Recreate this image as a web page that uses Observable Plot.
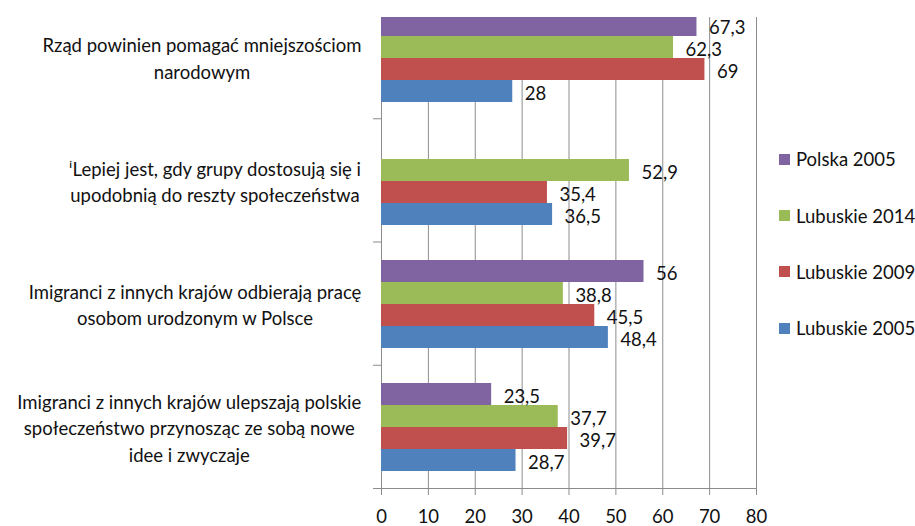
<!DOCTYPE html>
<html><head><meta charset="utf-8">
<script src="https://cdn.jsdelivr.net/npm/d3@7"></script>
<script src="https://cdn.jsdelivr.net/npm/@observablehq/plot@0.6"></script>
<style>
html,body{margin:0;padding:0;background:#fff;}
body{width:915px;height:526px;position:relative;overflow:hidden;font-family:Lato,sans-serif;}
#clip{position:absolute;left:0;top:17px;width:915px;height:509px;overflow:hidden;}
#clip svg{position:absolute;left:0;top:-22px;}
.grid-layer line,.grid-layer path{stroke:#8c8c8c;}
.grid-layer text{fill:#111;}
#legend{position:absolute;left:0;top:0;}
.li{position:absolute;left:779px;height:20px;display:flex;align-items:center;white-space:nowrap;font-size:18.5px;color:#111;font-family:Lato,sans-serif;}
.sw{width:11px;height:11px;margin-right:6px;}
</style>
</head><body>
<div id="clip"></div>
<div id="legend"></div>
<script>
// ---- data ----
const categories = [
  "Rząd powinien pomagać mniejszościom\nnarodowym",
  "ⁱLepiej jest, gdy grupy dostosują się i\nupodobnią do reszty społeczeństwa",
  "Imigranci z innych krajów odbierają pracę\nosobom urodzonym w Polsce",
  "Imigranci z innych krajów ulepszają polskie\nspołeczeństwo przynosząc ze sobą nowe\nidee i zwyczaje"
];
const series = ["Polska 2005", "Lubuskie 2014", "Lubuskie 2009", "Lubuskie 2005"];
const polska2005   = [67.3, null, 56, 23.5];
const lubuskie2014 = [62.3, 52.9, 38.8, 37.7];
const lubuskie2009 = [69, 35.4, 45.5, 39.7];
const lubuskie2005 = [28, 36.5, 48.4, 28.7];
const seriesValues = [polska2005, lubuskie2014, lubuskie2009, lubuskie2005];
const colors = ["#8064A2", "#9BBB59", "#C0504D", "#4F81BD"];
const xDomain = [0, 80];

const rows = [];
categories.forEach((c, ci) => series.forEach((s, si) => {
  const v = seriesValues[si][ci];
  if (v != null) rows.push({category: c, series: s, value: v});
}));
const fmt = v => String(v).replace(".", ",");

// ---- layout ----
const W = 915, H = 531, ML = 381, MR = 159, MT = 0, MB = 38;
const FONT = "Lato, sans-serif", FS = 18.5;
const gridColor = "#8c8c8c";

// measure label widths to right-align each centred block
const ctx = document.createElement("canvas").getContext("2d");
ctx.font = `${FS}px Lato`;
const blockW = c => Math.max(...c.split("\n").map(l => ctx.measureText(l).width));
const labelGap = 20;

const base = Plot.plot({
  width: W, height: H, marginTop: MT, marginBottom: MB, marginLeft: ML, marginRight: MR,
  style: {fontFamily: FONT, fontSize: FS + "px", background: "transparent", overflow: "visible"},
  x: {domain: xDomain, ticks: 8, tickSize: 7, tickPadding: 14, label: null, tickFormat: d => String(d)},
  y: {domain: [0, categories.length], reverse: true, ticks: categories.length, tickSize: 8, tickFormat: () => "", label: null},
  marks: [
    Plot.ruleX(d3.ticks(xDomain[0], xDomain[1], 8), {stroke: gridColor}),
    Plot.ruleY([categories.length], {stroke: gridColor}),
    ...categories.map((c, i) => Plot.text([c], {
      y: () => i + 0.5, frameAnchor: "left", textAnchor: "middle",
      dx: -(labelGap + blockW(c) / 2), lineHeight: 1.42, fill: "#111", fontSize: FS, text: d => d
    }))
  ]
});
base.classList.add("grid-layer");

const bars = Plot.plot({
  width: W, height: H, marginTop: MT, marginBottom: MB, marginLeft: ML, marginRight: MR,
  style: {fontFamily: FONT, fontSize: FS + "px", background: "transparent", overflow: "visible"},
  x: {domain: xDomain, axis: null},
  y: {domain: series, axis: null, paddingInner: 0, paddingOuter: 0.73, label: null},
  fy: {domain: categories, axis: null, padding: 0, label: null},
  color: {domain: series, range: colors},
  facet: {data: rows, y: "category", marginTop: 0, marginBottom: 0, marginLeft: 0, marginRight: 0},
  marks: [
    Plot.barX(rows, {x: "value", y: "series", fill: "series"}),
    Plot.text(rows, {x: "value", y: "series", text: d => fmt(d.value), textAnchor: "start", dx: 12, dy: 2.5, fill: "#111", fontSize: FS})
  ]
});

const clip = document.getElementById("clip");
clip.appendChild(base);
clip.appendChild(bars);

// legend
const legendY = [159, 215.5, 271.5, 328];
const legend = document.getElementById("legend");
series.forEach((s, i) => {
  const d = document.createElement("div");
  d.className = "li";
  d.style.top = (legendY[i] - 10) + "px";
  d.innerHTML = `<span class="sw" style="background:${colors[i]}"></span>${s}`;
  legend.appendChild(d);
});
</script>
</body></html>
